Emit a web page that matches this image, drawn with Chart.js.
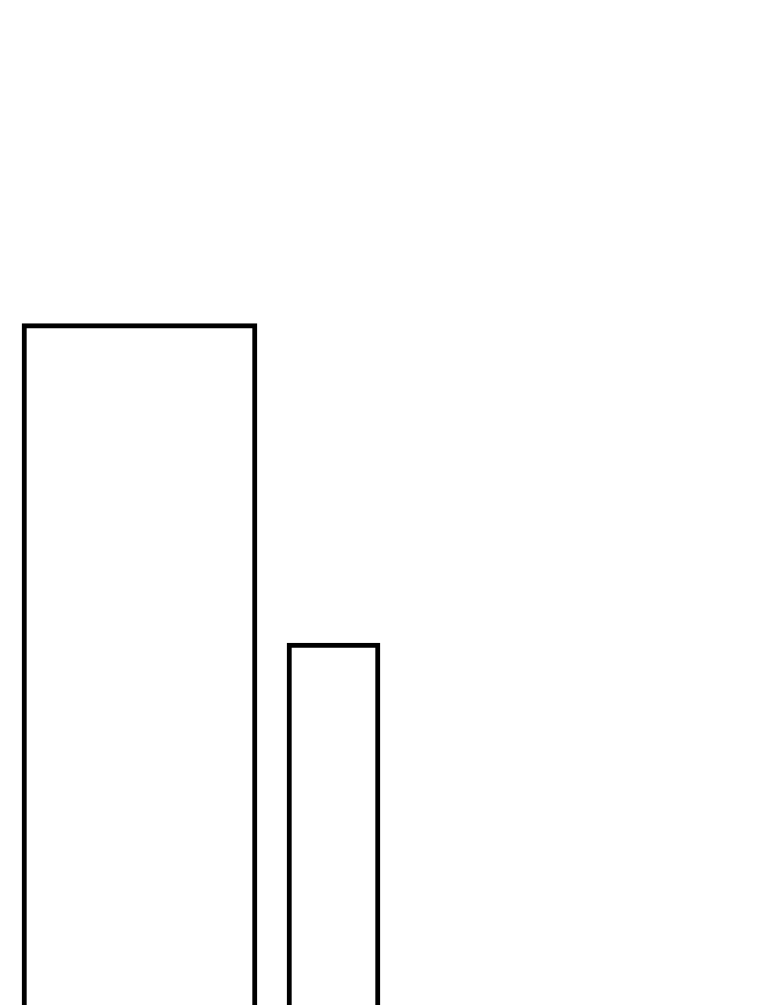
<!DOCTYPE html>
<html>
<head>
<meta charset="utf-8">
<script src="https://cdn.jsdelivr.net/npm/chart.js@4/dist/chart.umd.min.js"></script>
<style>
  html, body { margin: 0; padding: 0; background: #ffffff; }
  #wrap { width: 760px; height: 1005px; position: relative; }
</style>
</head>
<body>
<div id="wrap"><canvas id="c" width="760" height="1005"></canvas></div>
<script>
// Data
const categories = ['A', 'B', ''];
const values = [67.8, 36.0];
const yMin = 0;
const yMax = 100;

// Styling (not data)
const barPixelWidths = [235, 93];

const datasets = values.map((v, i) => ({
  label: categories[i],
  data: categories.map((_, j) => (j === i ? v : null)),
  backgroundColor: '#ffffff',
  borderColor: '#000000',
  borderWidth: 5,
  barThickness: barPixelWidths[i],
  grouped: false,
  clip: false
}));

new Chart(document.getElementById('c'), {
  type: 'bar',
  data: { labels: categories, datasets: datasets },
  options: {
    responsive: false,
    animation: false,
    devicePixelRatio: 1,
    layout: { padding: { left: 42.5, right: 135.5, top: 0, bottom: 0 } },
    plugins: { legend: { display: false }, tooltip: { enabled: false }, title: { display: false } },
    scales: {
      x: { display: false, offset: true, grid: { display: false } },
      y: { display: false, min: yMin, max: yMax, grid: { display: false } }
    }
  }
});
</script>
</body>
</html>
